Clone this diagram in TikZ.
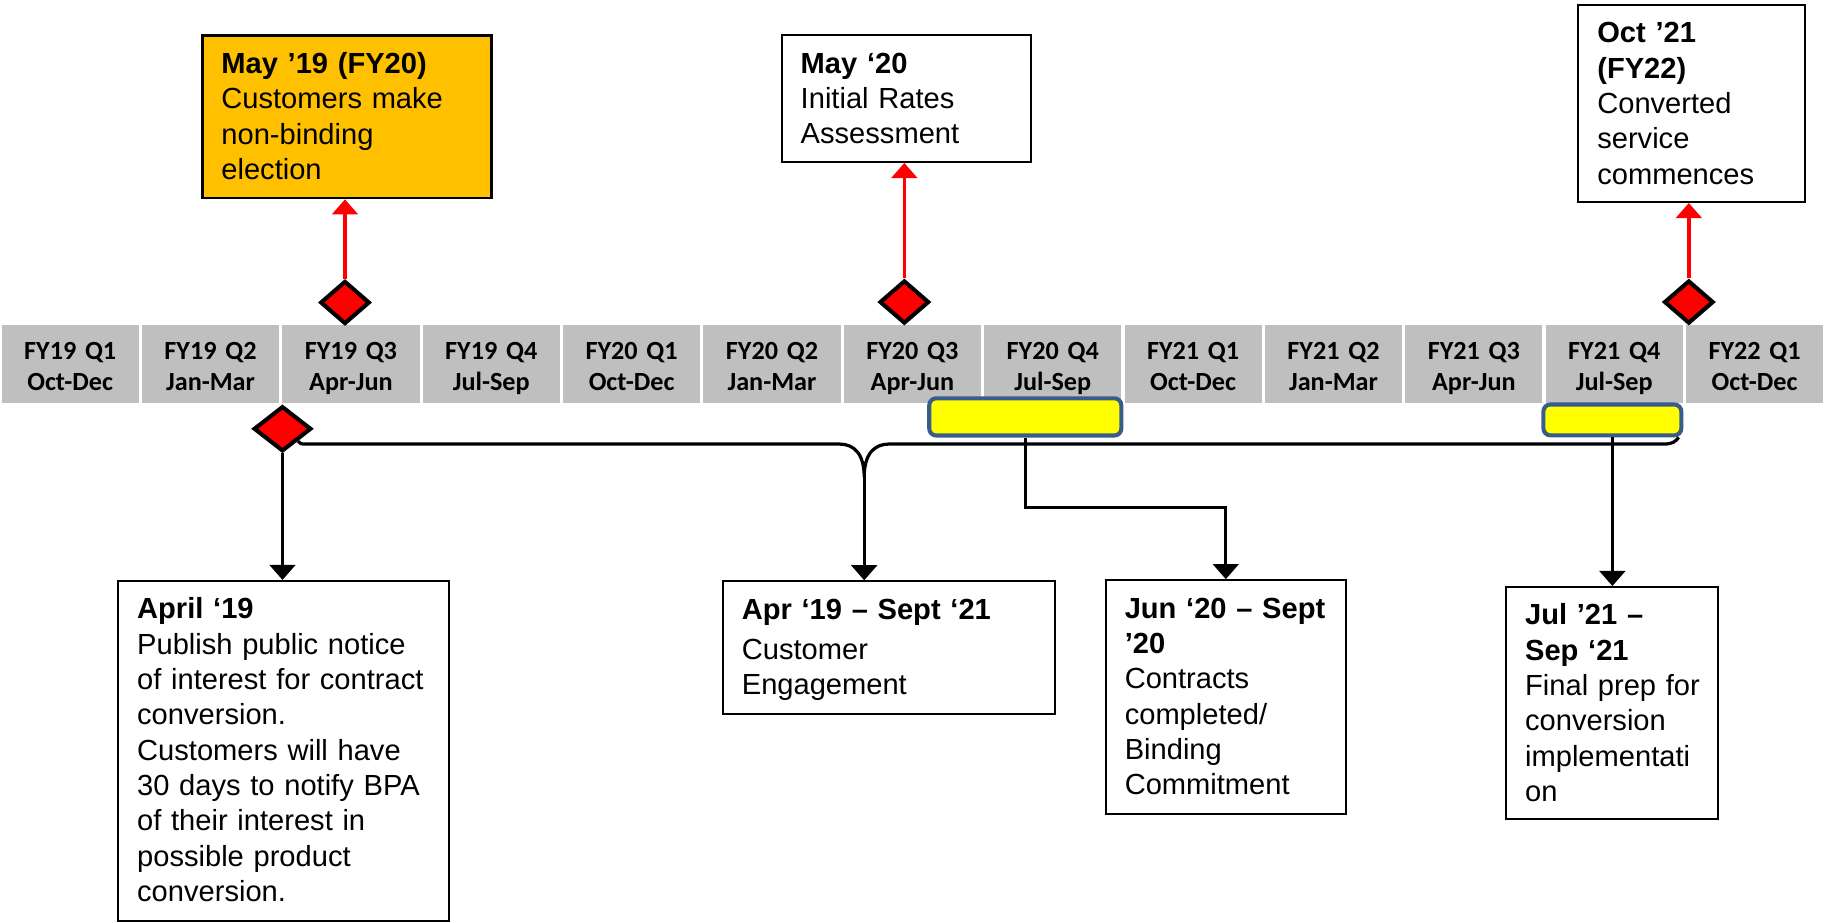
\documentclass[tikz,border=0pt]{standalone}
\usepackage{fontspec}
\setmainfont{Liberation Sans}
\newfontfamily\cellfont{Carlito}
\usepackage{tikz}
\usetikzlibrary{calc,arrows.meta,shapes.geometric}
\definecolor{cellgray}{HTML}{BFBFBF}
\definecolor{amber}{HTML}{FFC000}
\definecolor{hotred}{HTML}{FF0000}
\definecolor{hiyel}{HTML}{FFFF00}
\definecolor{barblue}{HTML}{385D8A}
\tikzset{
  qcell/.style={fill=cellgray, inner sep=0pt, text width=47.16pt, align=center,
    text height=11.84pt, text depth=15.16pt,
    font=\cellfont\bfseries\fontsize{9}{10.8}\selectfont},
  evbox/.style={draw=black, line width=0.7pt, fill=white, anchor=north west,
    inner xsep=0pt, inner ysep=0pt, align=left, text height=13pt,
    execute at begin node={\leftskip=6.6pt\relax},
    font=\fontsize{10}{12.15}\selectfont},
  hotbox/.style={evbox, fill=amber, line width=0.9pt},
  diam/.style={diamond, draw=black, fill=hotred, line width=1.4pt, inner sep=0pt,
    minimum width=17pt, minimum height=14.8pt},
  qbar/.style={draw=barblue, fill=hiyel, line width=1.4pt, rounded corners=2.4pt, inner sep=0pt},
  redarr/.style={draw=hotred, line width=1.15pt, -{Triangle[width=8.8pt,length=5.2pt]}},
  blkarr/.style={draw=black, line width=1.1pt, -{Triangle[width=8.8pt,length=5.2pt]}},
  link/.style={draw=black, line width=1.1pt}
}
\newcommand{\QuarterAt}[3]{%
  \node[qcell] (q#1) at ({(#1-0.5)*120.6},312.75) {#2\\#3};
}

\begin{document}
\begin{tikzpicture}[x=0.4pt, y=-0.4pt]
  \useasboundingbox (0,0) rectangle (1568,793);

  % quarter strip
  \QuarterAt{1}{FY19 Q1}{Oct-Dec}
  \QuarterAt{2}{FY19 Q2}{Jan-Mar}
  \QuarterAt{3}{FY19 Q3}{Apr-Jun}
  \QuarterAt{4}{FY19 Q4}{Jul-Sep}
  \QuarterAt{5}{FY20 Q1}{Oct-Dec}
  \QuarterAt{6}{FY20 Q2}{Jan-Mar}
  \QuarterAt{7}{FY20 Q3}{Apr-Jun}
  \QuarterAt{8}{FY20 Q4}{Jul-Sep}
  \QuarterAt{9}{FY21 Q1}{Oct-Dec}
  \QuarterAt{10}{FY21 Q2}{Jan-Mar}
  \QuarterAt{11}{FY21 Q3}{Apr-Jun}
  \QuarterAt{12}{FY21 Q4}{Jul-Sep}
  \QuarterAt{13}{FY22 Q1}{Oct-Dec}

  \node[qbar, minimum width=66pt, minimum height=12.8pt] (bar20) at (880.9,358.2) {};
  \node[qbar, minimum width=47.4pt, minimum height=10.6pt] (bar21) at (1385.3,360.8) {};

  % milestones above
  \node[hotbox, text width=99.36pt, text depth=42.8pt] (may19) at (172.6,29.5)
    {\textbf{May ’19 (FY20)}\\Customers make\\non-binding\\election};
  \node[evbox, text width=85.76pt, text depth=30.5pt] (may20) at (670.6,29.5)
    {\textbf{May ‘20}\\Initial Rates\\Assessment};
  \node[evbox, text width=77.88pt, text depth=54.7pt] (oct21) at (1355,3.4)
    {\textbf{Oct ’21}\\\textbf{(FY22)}\\Converted\\service\\commences};

  \node[diam] (dmay19) at (296.4,259.9) {};
  \node[diam] (dmay20) at (777,259.5) {};
  \node[diam] (doct21) at (1451,259.5) {};

  \draw[redarr] (dmay19.north) -- (dmay19.north |- may19.south);
  \draw[redarr] (dmay20.north) -- (dmay20.north |- may20.south);
  \draw[redarr] (doct21.north) -- (doct21.north |- oct21.south);

  % activities below
  \node[evbox, text width=113.8pt, text depth=103.7pt] (apr19) at (100.5,498.3)
    {\textbf{April ‘19}\\Publish public notice\\of interest for contract\\conversion.\\Customers will have\\30 days to notify BPA\\of their interest in\\possible product\\conversion.};
  \node[evbox, text width=114.24pt, text depth=32.6pt] (engage) at (620,498.6)
    {\textbf{Apr ‘19 – Sept ‘21}\\[1.6pt]Customer\\Engagement};
  \node[evbox, text width=82.64pt, text depth=67.4pt] (jun20) at (949,497.6)
    {\textbf{Jun ‘20 – Sept}\\\textbf{’20}\\Contracts\\completed/\\Binding\\Commitment};
  \node[evbox, text width=72.8pt, text depth=66.8pt] (jul21) at (1293,503.5)
    {\textbf{Jul ’21 –}\\\textbf{Sep ‘21}\\Final prep for\\conversion\\implementati\\on};

  \node[diam, minimum width=19.8pt, minimum height=15.5pt] (dapr19) at (242.7,368.4) {};
  \coordinate (tip) at (742.5,410);

  \draw[link] (dapr19.south east) .. controls (258,381.5) .. (264,381.5) -- (721,381.5)
    .. controls (734,381.5) and (742.5,390) .. (tip)
    .. controls (742.5,390) and (751,381.5) .. (764,381.5) -- (1430,381.5)
    .. controls (1437,381.5) and (1440,379) .. ($(bar21.south east)+(-4,0)$);
  \draw[blkarr] (dapr19.south) -- (dapr19.south |- apr19.north);
  \draw[blkarr] (tip) -- (tip |- engage.north);
  \draw[blkarr] (bar20.south) -- ++(0,60) -| (jun20.north);
  \draw[blkarr] (bar21.south) -- (bar21.south |- jul21.north);
\end{tikzpicture}
\end{document}
